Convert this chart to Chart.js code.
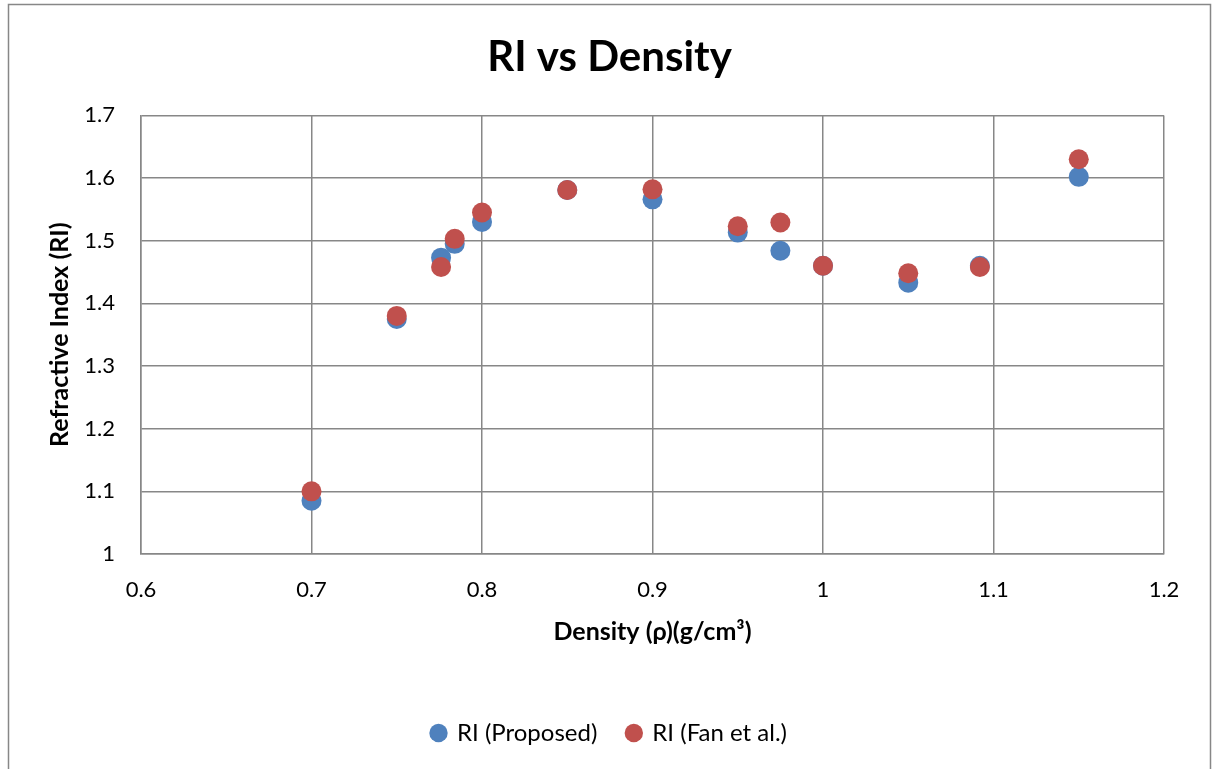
<!DOCTYPE html>
<html>
<head>
<meta charset="utf-8">
<script src="https://cdn.jsdelivr.net/npm/chart.js@4/dist/chart.umd.min.js"></script>
<style>
html,body{margin:0;padding:0;background:#fff;}
#wrap{width:1214px;height:769px;position:relative;}
</style>
</head>
<body>
<div id="wrap"><canvas id="c" width="1214" height="769"></canvas></div>
<script>
const densityProposed = [0.7, 0.75, 0.776, 0.784, 0.8, 0.85, 0.9, 0.95, 0.975, 1.0, 1.05, 1.092, 1.15];
const riProposed      = [1.085, 1.375, 1.473, 1.495, 1.530, 1.581, 1.566, 1.513, 1.484, 1.460, 1.433, 1.460, 1.602];
const densityFan      = [0.7, 0.75, 0.776, 0.784, 0.8, 0.85, 0.9, 0.95, 0.975, 1.0, 1.05, 1.092, 1.15];
const riFan           = [1.100, 1.380, 1.458, 1.503, 1.545, 1.581, 1.582, 1.523, 1.529, 1.460, 1.448, 1.458, 1.630];
const xTicks = [0.6, 0.7, 0.8, 0.9, 1.0, 1.1, 1.2];
const yTicks = [1, 1.1, 1.2, 1.3, 1.4, 1.5, 1.6, 1.7];

const FONT = 'Lato, "Liberation Sans", sans-serif';
const GRID = '#878787';

const frame = {
  id: 'frame',
  beforeDraw(chart) {
    const ctx = chart.ctx;
    ctx.save();
    ctx.fillStyle = '#fff';
    ctx.fillRect(0, 0, chart.width, chart.height);
    ctx.strokeStyle = GRID;
    ctx.lineWidth = 1.5;
    ctx.strokeRect(8.5, 4.5, 1202, 800);
    ctx.restore();
  }
};

new Chart(document.getElementById('c'), {
  type: 'scatter',
  data: {
    datasets: [
      {
        label: 'RI (Proposed)',
        data: densityProposed.map((x, i) => ({x: x, y: riProposed[i]})),
        backgroundColor: '#4F81BD', borderColor: '#4F81BD',
        pointRadius: 10, pointHoverRadius: 10, borderWidth: 0, order: 1
      },
      {
        label: 'RI (Fan et al.)',
        data: densityFan.map((x, i) => ({x: x, y: riFan[i]})),
        backgroundColor: '#C0504D', borderColor: '#C0504D',
        pointRadius: 10, pointHoverRadius: 10, borderWidth: 0, order: 0
      }
    ]
  },
  options: {
    responsive: false,
    animation: false,
    layout: { padding: { left: 45, right: 40, top: 0, bottom: 14 } },
    plugins: {
      tooltip: { enabled: false },
      title: {
        display: true, text: 'RI vs Density', color: '#000',
        font: { family: FONT, size: 42, weight: 'bold' },
        padding: { top: 32, bottom: 33 }
      },
      legend: {
        position: 'bottom',
        labels: {
          usePointStyle: true, boxWidth: 13, boxHeight: 13, padding: 30,
          color: '#000', font: { family: FONT, size: 24 },
          sort: (a, b) => a.datasetIndex - b.datasetIndex
        }
      }
    },
    scales: {
      x: {
        type: 'linear', min: 0.6, max: 1.2,
        afterBuildTicks: (s) => { s.ticks = xTicks.map(v => ({value: v})); },
        afterFit: (s) => { s.height = 137; },
        ticks: { color: '#000', font: { family: FONT, size: 22 }, padding: 23,
                 callback: (v) => String(Math.round(v * 10) / 10) },
        grid: { color: GRID, lineWidth: 1.5, drawTicks: false },
        border: { color: GRID, width: 1.5 },
        title: { display: true, text: 'Density (ρ)(g/cm³)', color: '#000',
                 font: { family: FONT, size: 25, weight: 'bold' }, padding: { top: 0, bottom: 44 } }
      },
      y: {
        type: 'linear', min: 1, max: 1.7,
        afterBuildTicks: (s) => { s.ticks = yTicks.map(v => ({value: v})); },
        afterFit: (s) => { s.width = 96; },
        ticks: { color: '#000', font: { family: FONT, size: 22 }, padding: 26,
                 callback: (v) => String(Math.round(v * 10) / 10) },
        grid: { color: GRID, lineWidth: 1.5, drawTicks: false },
        border: { color: GRID, width: 1.5 },
        title: { display: true, text: 'Refractive Index (RI)', color: '#000',
                 font: { family: FONT, size: 25, weight: 'bold' }, padding: { top: 0, bottom: 0 } }
      },
      y2: {
        type: 'linear', position: 'right', display: true,
        afterFit: (s) => { s.width = 10; },
        ticks: { display: false },
        grid: { display: false, drawTicks: false },
        border: { display: false },
        title: { display: false }
      }
    }
  },
  plugins: [frame]
});
</script>
</body>
</html>
